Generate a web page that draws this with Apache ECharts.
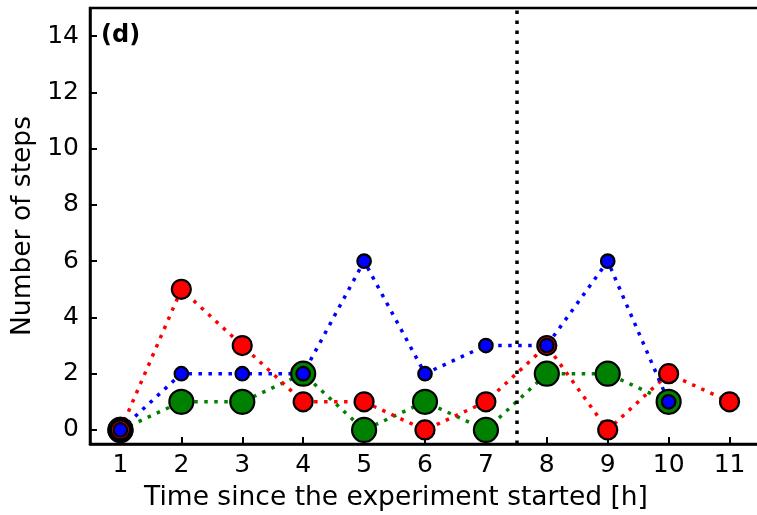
<!DOCTYPE html>
<html>
<head>
<meta charset="utf-8">
<script src="https://cdn.jsdelivr.net/npm/echarts@6/dist/echarts.min.js"></script>
<style>
html,body{margin:0;padding:0;background:#fff;}
#chart{width:757px;height:515px;}
</style>
</head>
<body>
<div id="chart"></div>
<script>
const hoursRed = [1,2,3,4,5,6,7,8,9,10,11];
const redSteps = [0,5,3,1,1,0,1,3,0,2,1];
const hoursBlue = [1,2,3,4,5,6,7,8,9,10];
const blueSteps = [0,2,2,2,6,2,3,3,6,1];
const hoursGreen = [1,2,3,4,5,6,7,8,9,10];
const greenSteps = [0,1,1,2,0,1,0,2,2,1];
const hoursBlack = [1];
const blackSteps = [0];
const xTicks = [1,2,3,4,5,6,7,8,9,10,11];
const yTicks = [0,2,4,6,8,10,12,14];
const dividerHour = 7.5;

const FONT = 'DejaVu Sans';
const pairs = (xs, ys) => xs.map((x, i) => [x, ys[i]]);
const dot = [3.5, 6.5];

function lineSeries(name, xs, ys, color, size, extra) {
  return Object.assign({
    name: name,
    type: 'line',
    data: pairs(xs, ys),
    showSymbol: true,
    showAllSymbol: true,
    symbol: 'circle',
    symbolSize: size,
    lineStyle: {color: color, width: 3.5, type: dot},
    itemStyle: {color: color, borderColor: '#000', borderWidth: 2.2, opacity: 1},
    emphasis: {disabled: true},
    animation: false
  }, extra || {});
}

const chart = echarts.init(document.getElementById('chart'), null, {renderer: 'canvas'});
chart.setOption({
  animation: false,
  backgroundColor: '#fff',
  title: {
    text: '(d)', left: 96, top: 19,
    textStyle: {fontFamily: FONT, fontWeight: 'bold', fontSize: 24, color: '#000'}
  },
  grid: {
    left: 90, top: 8, width: 670, height: 436,
    show: true, borderColor: '#000', borderWidth: 2.5, backgroundColor: 'transparent',
    containLabel: false, outerBoundsMode: 'none'
  },
  xAxis: {
    type: 'value', min: 0.5, max: 11.5,
    name: 'Time since the experiment started [h]',
    nameLocation: 'middle', nameGap: 41,
    nameTextStyle: {fontFamily: FONT, fontSize: 26.5, color: '#000', padding: [0, 58, 0, 0]},
    axisLine: {show: true, onZero: false, lineStyle: {color: '#000', width: 2.5}},
    axisTick: {show: true, inside: true, length: 7, lineStyle: {color: '#000', width: 2}, customValues: xTicks},
    axisLabel: {show: true, fontFamily: FONT, fontSize: 25, color: '#000', margin: 9, customValues: xTicks},
    splitLine: {show: false}
  },
  yAxis: {
    type: 'value', min: -0.5, max: 15,
    name: 'Number of steps',
    nameLocation: 'middle', nameGap: 53, nameRotate: 90,
    nameTextStyle: {fontFamily: FONT, fontSize: 26.5, color: '#000'},
    axisLine: {show: true, onZero: false, lineStyle: {color: '#000', width: 2.5}},
    axisTick: {show: true, inside: true, length: 7, lineStyle: {color: '#000', width: 2}, customValues: yTicks},
    axisLabel: {show: true, fontFamily: FONT, fontSize: 25, color: '#000', margin: 11, customValues: yTicks},
    splitLine: {show: false}
  },
  series: [
    lineSeries('green', hoursGreen, greenSteps, '#008000', 24),
    lineSeries('black', hoursBlack, blackSteps, '#000000', 24),
    lineSeries('red', hoursRed, redSteps, '#ff0000', 19),
    lineSeries('blue', hoursBlue, blueSteps, '#0000ff', 13.5, {
      markLine: {
        silent: true, symbol: ['none', 'none'], animation: false,
        label: {show: false},
        lineStyle: {color: '#000', width: 3.5, type: dot},
        data: [{xAxis: dividerHour}]
      }
    })
  ]
});
</script>
</body>
</html>
